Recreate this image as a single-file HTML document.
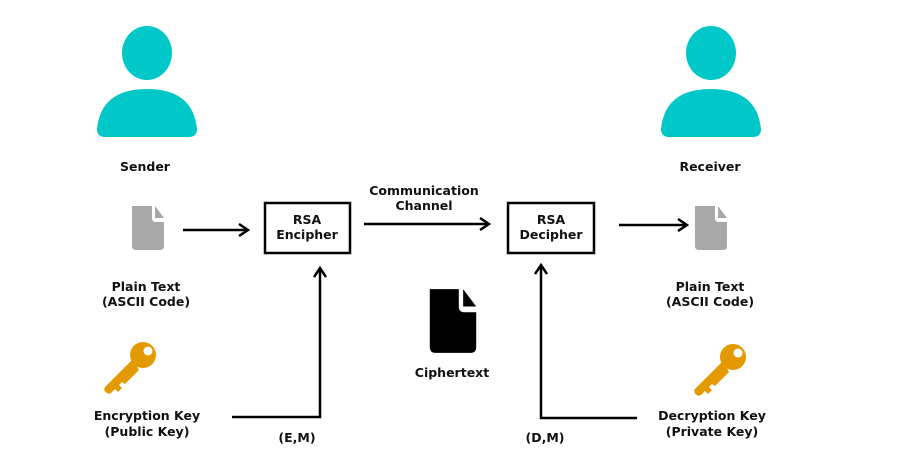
<!DOCTYPE html>
<html><head><style>body{margin:0;background:#fff}svg{display:block}text{font-family:"DejaVu Sans","Liberation Sans",sans-serif;font-weight:bold;font-size:12.5px;fill:#111;text-anchor:middle}</style></head>
<body>
<svg width="903" height="471" viewBox="0 0 903 471" xmlns="http://www.w3.org/2000/svg">
<defs>
<g id="person" fill="#00c8c8"><ellipse cx="0" cy="-34" rx="25" ry="27"/><path d="M-50 42 Q-46 2 0 2 Q46 2 50 42 Q50 50 42 50 L-42 50 Q-50 50 -50 42Z"/></g>
<g id="doc"><path d="M-16 -22 L4 -22 L4 -10 Q4 -6 8 -6 L16 -6 L16 18 Q16 22 12 22 L-12 22 Q-16 22 -16 18Z"/><path d="M7 -22 L16 -10 L7 -10Z"/></g>
<g id="key"><g fill="#e39a00"><circle cx="14" cy="-14" r="13"/><path d="M4 -10 L-24 18 Q-26 22 -22 24 Q-19 26 -16 22 L-14 20 L-11 23 L-7 19 L-10 16 L-7 13 L-4 15 L0 11 L10 1Z"/></g><circle cx="19" cy="-18" r="4.5" fill="#fff"/></g>
<marker id="a" markerWidth="12" markerHeight="14" refX="10" refY="7" orient="auto" markerUnits="userSpaceOnUse"><path d="M1 1 L10 7 L1 13" fill="none" stroke="#000" stroke-width="2.5"/></marker>
</defs>
<use href="#person" x="147" y="87"/>
<use href="#person" x="711" y="87"/>
<text x="145" y="171">Sender</text>
<text x="710" y="171">Receiver</text>
<use href="#doc" x="148" y="228" fill="#a8a8a8"/>
<use href="#doc" x="711" y="228" fill="#a8a8a8"/>
<use href="#doc" x="453" y="321" fill="#000" transform="translate(453 321) scale(1.45) translate(-453 -321)"/>
<g stroke="#000" stroke-width="2.5" fill="none">
<line x1="183" y1="230" x2="248" y2="230" marker-end="url(#a)"/>
<line x1="364" y1="224" x2="489" y2="224" marker-end="url(#a)"/>
<line x1="619" y1="225" x2="687" y2="225" marker-end="url(#a)"/>
<rect x="265" y="203" width="85" height="50"/>
<rect x="508" y="203" width="86" height="50"/>
<polyline points="232,417 320,417 320,268" marker-end="url(#a)"/>
<polyline points="637,418 541,418 541,265" marker-end="url(#a)"/>
</g>
<text x="307" y="224">RSA</text><text x="307" y="239">Encipher</text>
<text x="551" y="224">RSA</text><text x="551" y="239">Decipher</text>
<text x="424" y="195">Communication</text><text x="424" y="210">Channel</text>
<text x="146" y="291">Plain Text</text><text x="146" y="306">(ASCII Code)</text>
<text x="710" y="291">Plain Text</text><text x="710" y="306">(ASCII Code)</text>
<use href="#key" x="129" y="369"/>
<use href="#key" x="719" y="371"/>
<text x="147" y="420">Encryption Key</text><text x="147" y="436">(Public Key)</text>
<text x="712" y="420">Decryption Key</text><text x="712" y="436">(Private Key)</text>
<text x="297" y="442">(E,M)</text>
<text x="545" y="442">(D,M)</text>
<text x="452" y="377">Ciphertext</text>
</svg>
</body></html>
